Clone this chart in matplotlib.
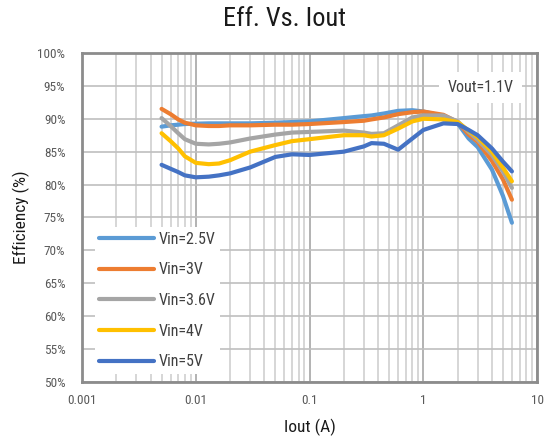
import matplotlib.pyplot as plt
from matplotlib.ticker import LogLocator, FixedLocator, NullFormatter

plt.rcParams['font.family'] = ['Roboto Condensed', 'Liberation Sans Narrow',
                               'Roboto', 'DejaVu Sans']

# load current (A)
iout = [0.005, 0.006, 0.007, 0.008, 0.01, 0.013, 0.016, 0.02, 0.03, 0.05,
        0.07, 0.1, 0.2, 0.3, 0.35, 0.45, 0.6, 0.8, 1, 1.5, 2, 2.5, 3, 4, 5, 6]

# efficiency (%) per input voltage
eff_25 = [88.8, 89.0, 89.1, 89.2, 89.25, 89.3, 89.3, 89.3, 89.3, 89.4,
          89.5, 89.6, 90.1, 90.4, 90.5, 90.8, 91.2, 91.3, 91.1, 90.4,
          89.3, 87.0, 85.7, 82.3, 78.3, 74.2]
eff_3 = [91.5, 90.7, 89.9, 89.4, 89.0, 88.9, 88.9, 89.0, 89.0, 89.1,
         89.1, 89.2, 89.5, 89.7, 89.9, 90.2, 90.7, 91.0, 91.1, 90.6,
         89.5, 87.6, 86.5, 83.6, 80.8, 77.7]
eff_36 = [90.1, 88.9, 87.8, 86.9, 86.2, 86.1, 86.2, 86.4, 87.0, 87.6,
          87.9, 88.0, 88.2, 87.9, 87.7, 87.8, 89.0, 90.2, 90.5, 90.5,
          89.6, 88.0, 86.8, 84.5, 82.0, 79.5]
eff_4 = [87.8, 86.6, 85.5, 84.3, 83.3, 83.1, 83.2, 83.7, 85.0, 86.0,
         86.6, 86.9, 87.5, 87.5, 87.3, 87.5, 88.5, 89.6, 90.0, 89.9,
         89.5, 88.2, 87.2, 85.0, 82.6, 80.5]
eff_5 = [83.0, 82.4, 81.9, 81.4, 81.1, 81.2, 81.4, 81.7, 82.6, 84.2,
         84.6, 84.5, 85.0, 85.8, 86.3, 86.2, 85.3, 87.0, 88.3, 89.3,
         89.2, 88.3, 87.5, 85.5, 83.5, 82.0]

labels = ['Vin=2.5V', 'Vin=3V', 'Vin=3.6V', 'Vin=4V', 'Vin=5V']
colors = ['#5B9BD5', '#ED7D31', '#A5A5A5', '#FFC000', '#4472C4']
series = [eff_25, eff_3, eff_36, eff_4, eff_5]

fig = plt.figure(figsize=(5.47, 4.45), dpi=100)
ax = fig.add_axes([0.15, 0.1416, 0.832, 0.7394])

for y, lab, c in zip(series, labels, colors):
    ax.plot(iout, y, color=c, lw=3, label=lab, solid_capstyle='round',
            solid_joinstyle='round', zorder=3)

ax.set_xscale('log')
ax.set_xlim(0.001, 10)
ax.set_ylim(50, 100)
ax.set_yticks(range(50, 101, 5))
ax.set_yticklabels([f'{v}%' for v in range(50, 101, 5)])
ax.xaxis.set_major_locator(FixedLocator([0.001, 0.01, 0.1, 1, 10]))
ax.set_xticklabels(['0.001', '0.01', '0.1', '1', '10'])
ax.xaxis.set_minor_locator(LogLocator(base=10, subs=range(2, 10)))
ax.xaxis.set_minor_formatter(NullFormatter())

ax.grid(True, which='major', axis='x', color='#a6a6a6', lw=1.2)
ax.grid(True, which='minor', axis='x', color='#d0d0d0', lw=1.2)
ax.grid(True, which='major', axis='y', color='#bfbfbf', lw=1.2)
ax.set_axisbelow(True)
ax.tick_params(which='both', length=0, labelsize=9.5, colors='#595959')
ax.tick_params(axis='y', pad=12)
ax.tick_params(axis='x', pad=9)

for s in ax.spines.values():
    s.set_color('#8c8c8c')
    s.set_linewidth(2)

leg = ax.legend(loc='lower left', bbox_to_anchor=(0.01, 0.0), frameon=True,
                fancybox=False, edgecolor='none', facecolor='white',
                framealpha=1, fontsize=11.5, handlelength=3.4, labelspacing=0.98,
                handletextpad=0.3, borderpad=0.3)
for t in leg.get_texts():
    t.set_color('#404040')
leg.set_zorder(2)

ax.text(0.875, 0.895, 'Vout=1.1V', transform=ax.transAxes, ha='center',
        va='center', fontsize=11.5, color='#404040', zorder=4,
        bbox=dict(facecolor='white', edgecolor='none', pad=6))

fig.text(0.521, 0.958, 'Eff. Vs. Iout', ha='center', va='center', fontsize=19,
         color='#1a1a1a')
ax.set_xlabel('Iout (A)', fontsize=12.5, color='#1a1a1a', labelpad=8)
ax.set_ylabel('Efficiency (%)', fontsize=12.5, color='#1a1a1a', labelpad=5)

fig.savefig('out.png', dpi=100)
